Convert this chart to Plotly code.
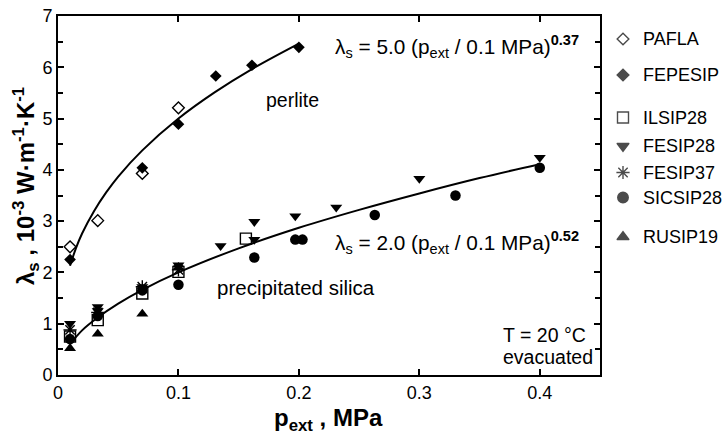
import plotly.graph_objects as go

# ---------------- data ----------------
# perlite
pafla_p = [0.01, 0.033, 0.07, 0.1]
pafla_l = [2.50, 3.01, 3.93, 5.21]
fepesip_p = [0.01, 0.07, 0.1, 0.131, 0.161, 0.2]
fepesip_l = [2.25, 4.04, 4.89, 5.83, 6.04, 6.39]
# precipitated silica
ilsip28_p = [0.01, 0.033, 0.07, 0.1, 0.156]
ilsip28_l = [0.75, 1.07, 1.59, 2.01, 2.66]
fesip28_p = [0.01, 0.033, 0.033, 0.07, 0.1, 0.135, 0.163, 0.163, 0.197, 0.231, 0.3, 0.4]
fesip28_l = [1.00, 1.33, 1.25, 1.72, 2.14, 2.52, 2.64, 2.99, 3.10, 3.27, 3.83, 4.24]
fesip37_p = [0.01, 0.033, 0.07, 0.1]
fesip37_l = [0.88, 1.22, 1.72, 2.05]
sicsip28_p = [0.01, 0.033, 0.07, 0.1, 0.163, 0.197, 0.203, 0.263, 0.33, 0.4]
sicsip28_l = [0.70, 1.15, 1.65, 1.76, 2.29, 2.64, 2.64, 3.12, 3.50, 4.04]
rusip19_p = [0.01, 0.033, 0.07, 0.1]
rusip19_l = [0.52, 0.80, 1.19, 2.10]
# fitted curves as drawn
perlite_fit_p = [0.01, 0.015, 0.02, 0.03, 0.04, 0.05, 0.07, 0.1, 0.13, 0.16, 0.2]
perlite_fit_l = [2.13, 2.48, 2.76, 3.20, 3.56, 3.87, 4.38, 5.00, 5.51, 5.95, 6.46]
silica_fit_p = [0.01, 0.02, 0.033, 0.05, 0.07, 0.1, 0.15, 0.2, 0.25, 0.3, 0.35, 0.4]
silica_fit_l = [0.60, 0.87, 1.12, 1.39, 1.66, 2.00, 2.47, 2.87, 3.22, 3.54, 3.84, 4.11]

legend_names = ["PAFLA", "FEPESIP", "ILSIP28", "FESIP28", "FESIP37", "SICSIP28", "RUSIP19"]
x_ticks = [0, 0.1, 0.2, 0.3, 0.4]
y_ticks = [0, 1, 2, 3, 4, 5, 6, 7]

# ---------------- styles ----------------
FONT = "Arial, Liberation Sans, Helvetica, sans-serif"
styles = {
    "PAFLA": dict(symbol="diamond-open", size=9, color="black", line=dict(width=1.4, color="black")),
    "FEPESIP": dict(symbol="diamond", size=9, color="black", line=dict(width=0)),
    "ILSIP28": dict(symbol="square-open", size=11, color="black", line=dict(width=1.4, color="black")),
    "FESIP28": dict(symbol="triangle-down", size=10.5, color="black", line=dict(width=0)),
    "FESIP37": dict(symbol="asterisk-open", size=11, color="black", line=dict(width=1.4, color="black")),
    "SICSIP28": dict(symbol="circle", size=10.5, color="black", line=dict(width=0)),
    "RUSIP19": dict(symbol="triangle-up", size=10.5, color="black", line=dict(width=0)),
}
series = {
    "PAFLA": (pafla_p, pafla_l),
    "FEPESIP": (fepesip_p, fepesip_l),
    "ILSIP28": (ilsip28_p, ilsip28_l),
    "SICSIP28": (sicsip28_p, sicsip28_l),
    "FESIP37": (fesip37_p, fesip37_l),
    "RUSIP19": (rusip19_p, rusip19_l),
    "FESIP28": (fesip28_p, fesip28_l),
}

# layout geometry (pixels)
W, H = 725, 436
ML, MR, MT, MB = 58, 0, 16, 61
PW, PH = W - ML - MR, H - MT - MB
main_right = 600
xdom_end = (main_right - ML) / PW
leg_start = xdom_end + 0.02


def px_x(p):
    return (p - ML) / PW


def px_y(p):
    return (H - MB - p) / PH


fig = go.Figure()

fig.add_trace(go.Scatter(x=perlite_fit_p, y=perlite_fit_l, mode="lines",
                         line=dict(color="black", width=2, shape="spline"), showlegend=False))
fig.add_trace(go.Scatter(x=silica_fit_p, y=silica_fit_l, mode="lines",
                         line=dict(color="black", width=2, shape="spline"), showlegend=False))

for name, (px, py) in series.items():
    fig.add_trace(go.Scatter(x=px, y=py, mode="markers", name=name,
                             marker=styles[name], showlegend=False))

# ---------------- manual legend on its own pixel-scaled axes ----------------
legend_y = [39, 75, 117.5, 146, 172.5, 197.5, 237]
fig.add_trace(go.Scatter(
    x=[623] * len(legend_names), y=legend_y, mode="markers", showlegend=False,
    marker=dict(symbol=[styles[n]["symbol"] for n in legend_names],
                size=[styles[n]["size"] for n in legend_names],
                color="black", line=dict(width=1.4, color="black")),
    xaxis="x2", yaxis="y2"))
for n, yy in zip(legend_names, legend_y):
    fig.add_annotation(x=641, y=yy, xref="x2", yref="y2", text=n, showarrow=False,
                       xanchor="left", yanchor="middle", font=dict(size=18, color="black", family=FONT))

# ---------------- text annotations ----------------
ann_font = dict(size=19.5, color="black", family=FONT)
eq_font = dict(size=20.8, color="black", family=FONT)
fig.add_annotation(x=0.228, y=6.40, xref="x", yref="y", showarrow=False, xanchor="left", yanchor="middle",
                   text="λ<sub>s</sub> = 5.0 (p<sub>ext</sub> / 0.1 MPa)<sup><b>0.37</b></sup>", font=eq_font)
fig.add_annotation(x=0.195, y=5.36, xref="x", yref="y", showarrow=False, text="perlite", font=ann_font)
fig.add_annotation(x=0.228, y=2.58, xref="x", yref="y", showarrow=False, xanchor="left", yanchor="middle",
                   text="λ<sub>s</sub> = 2.0 (p<sub>ext</sub> / 0.1 MPa)<sup><b>0.52</b></sup>", font=eq_font)
fig.add_annotation(x=0.198, y=1.70, xref="x", yref="y", showarrow=False, text="precipitated silica",
                   font=dict(size=20.5, color="black", family=FONT))
fig.add_annotation(x=0.368, y=0.78, xref="x", yref="y", showarrow=False, xanchor="left",
                   text="T = 20 °C", font=ann_font)
fig.add_annotation(x=0.368, y=0.35, xref="x", yref="y", showarrow=False, xanchor="left",
                   text="evacuated", font=ann_font)

# axis titles
fig.add_annotation(x=px_x(328), y=px_y(419), xref="paper", yref="paper", showarrow=False,
                   xanchor="center", yanchor="middle",
                   text="<b>p<sub>ext</sub> , MPa</b>", font=dict(size=24, color="black", family=FONT))
fig.add_annotation(x=px_x(26), y=px_y(186), xref="paper", yref="paper", showarrow=False,
                   xanchor="center", yanchor="middle", textangle=-90,
                   text="<b>λ<sub>s</sub> , 10<sup>-3</sup> W·m<sup>-1</sup>·K<sup>-1</sup></b>",
                   font=dict(size=24, color="black", family=FONT))

axis_common = dict(showline=True, linecolor="black", linewidth=2, mirror="ticks",
                   ticks="inside", ticklen=6, tickwidth=1.5, tickcolor="black",
                   showgrid=False, zeroline=False, automargin=False,
                   tickfont=dict(size=18, color="black", family=FONT))

fig.update_layout(
    width=W, height=H,
    margin=dict(l=ML, r=MR, t=MT, b=MB, autoexpand=False),
    paper_bgcolor="white", plot_bgcolor="white",
    font=dict(family=FONT, color="black"),
    xaxis=dict(domain=[0, xdom_end], range=[0, 0.45], tickvals=x_ticks,
               ticktext=[("0" if v == 0 else f"{v:g}") for v in x_ticks],
               **axis_common),
    yaxis=dict(range=[0, 7], tickvals=y_ticks,
               minor=dict(dtick=0.5, ticks="inside", ticklen=5, tickwidth=1.5, tickcolor="black"),
               **axis_common),
    xaxis2=dict(domain=[leg_start, 1], anchor="y2", range=[ML + leg_start * PW, W],
                visible=False, fixedrange=True),
    yaxis2=dict(domain=[0, 1], anchor="x2", range=[H - MB, MT], visible=False, fixedrange=True),
)

fig.write_html("out.html", config={"displayModeBar": False},
               post_script="document.body.style.margin='0px';document.body.style.overflow='hidden';")
